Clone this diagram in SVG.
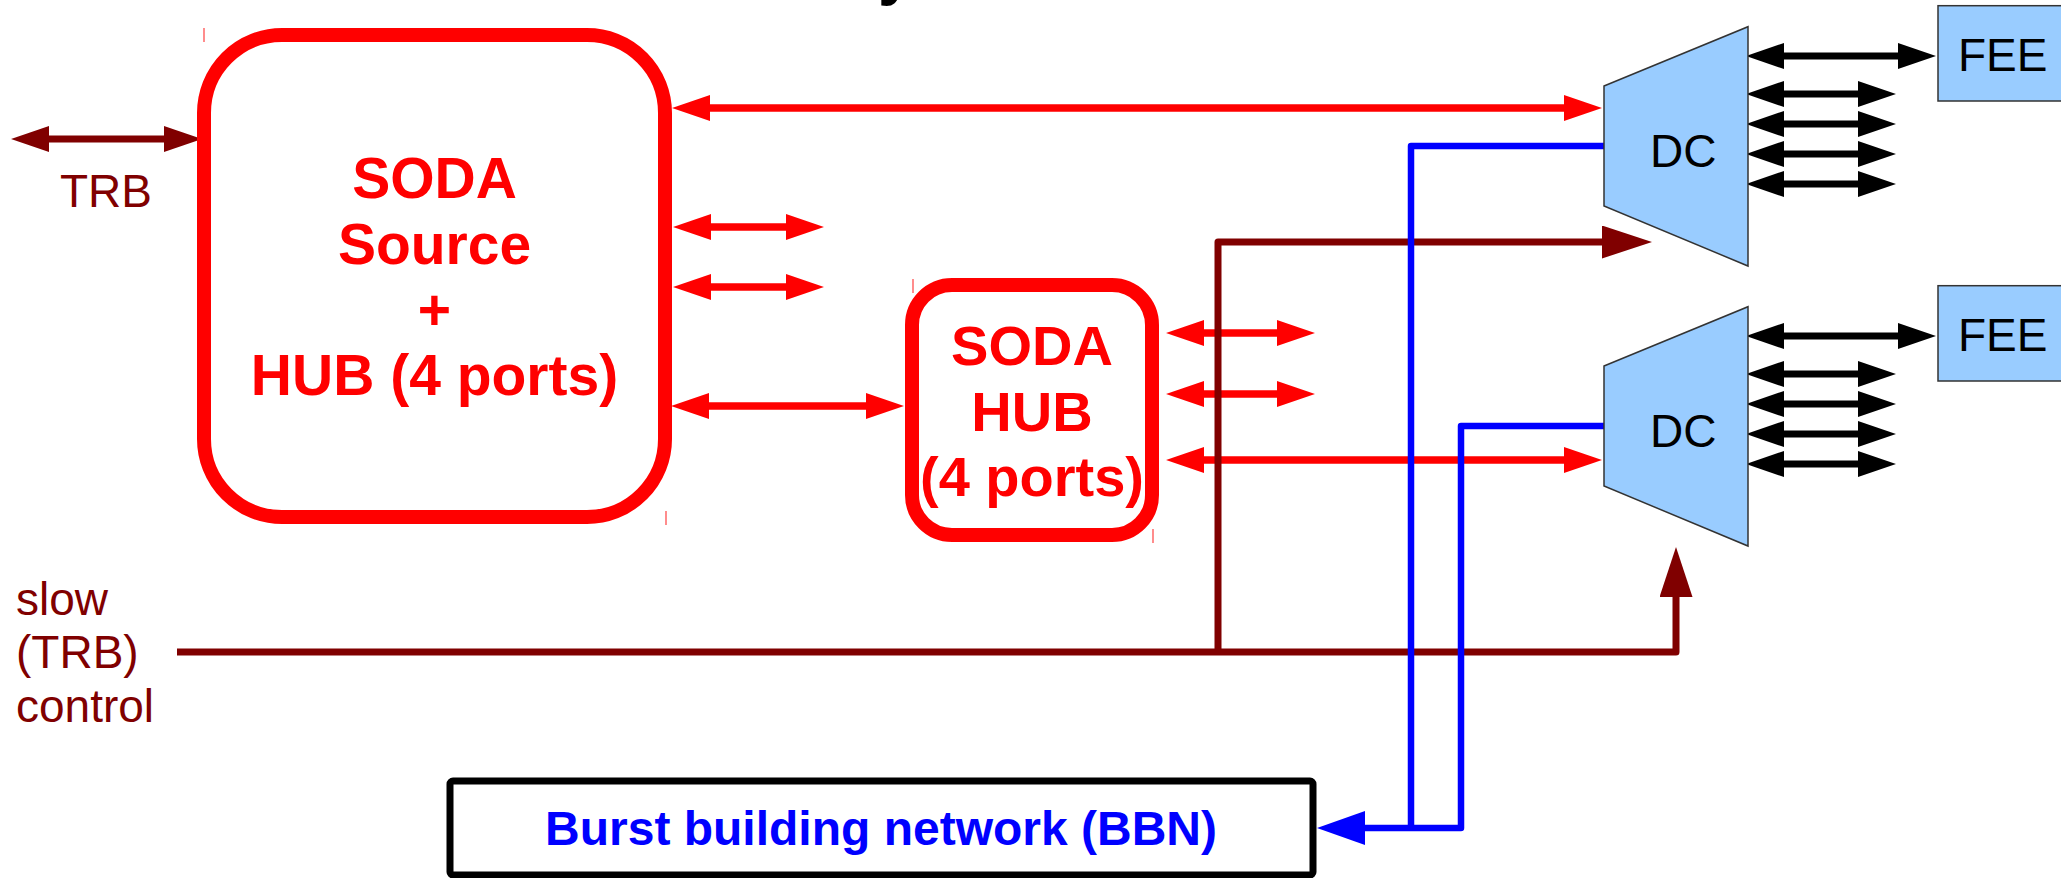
<svg xmlns="http://www.w3.org/2000/svg" width="2061" height="878" viewBox="0 0 2061 878">
<style>
.lbl{font-family:"Liberation Sans",Arial,sans-serif;}
.big{font-family:"Liberation Sans",Arial,sans-serif;font-weight:bold;fill:#ff0000;text-anchor:middle;}
.dr{fill:#800000;font-size:46px;}
.blk{fill:#000;font-size:46px;}
.red{stroke:#ff0000;stroke-width:7.5;fill:none;marker-start:url(#ar);marker-end:url(#ar);}
.black{stroke:#000;stroke-width:7;fill:none;marker-start:url(#ak);marker-end:url(#ak);}
.dc{fill:#99ccff;stroke:#333;stroke-width:1.5;}
.fee{fill:#99ccff;stroke:#333;stroke-width:1.5;}
.tick{stroke:#ff4040;stroke-width:1.2;}
</style>
<defs>
<marker id="ar" markerUnits="userSpaceOnUse" markerWidth="38" markerHeight="26" viewBox="0 0 38 26" refX="8" refY="13" orient="auto-start-reverse"><path d="M0,0 L38,13 L0,26 z" fill="#ff0000"/></marker>
<marker id="ak" markerUnits="userSpaceOnUse" markerWidth="38" markerHeight="26" viewBox="0 0 38 26" refX="8" refY="13" orient="auto-start-reverse"><path d="M0,0 L38,13 L0,26 z" fill="#000"/></marker>
<marker id="ad" markerUnits="userSpaceOnUse" markerWidth="38" markerHeight="26" viewBox="0 0 38 26" refX="8" refY="13" orient="auto-start-reverse"><path d="M0,0 L38,13 L0,26 z" fill="#800000"/></marker>
<marker id="adL" markerUnits="userSpaceOnUse" markerWidth="50" markerHeight="33" viewBox="0 0 50 33" refX="12" refY="16.5" orient="auto"><path d="M0,0 L50,16.5 L0,33 z" fill="#800000"/></marker>
<marker id="ab" markerUnits="userSpaceOnUse" markerWidth="48" markerHeight="34" viewBox="0 0 48 34" refX="12" refY="17" orient="auto"><path d="M0,0 L48,17 L0,34 z" fill="#0000ff"/></marker>
</defs>

<text class="lbl" x="878" y="-7" font-size="64" font-weight="bold" fill="#000">y</text>

<g id="connectors">
  <!-- red SODA links -->
  <line class="red" x1="702" y1="108" x2="1572" y2="108"/>
  <line class="red" x1="703" y1="227" x2="794" y2="227"/>
  <line class="red" x1="703" y1="287" x2="794" y2="287"/>
  <line class="red" x1="701" y1="406" x2="874" y2="406"/>
  <line class="red" x1="1196" y1="333" x2="1285" y2="333"/>
  <line class="red" x1="1196" y1="394" x2="1285" y2="394"/>
  <line class="red" x1="1196" y1="460" x2="1572" y2="460"/>
  <!-- TRB -->
  <line x1="41" y1="139" x2="172" y2="139" stroke="#800000" stroke-width="7" marker-start="url(#ad)" marker-end="url(#ad)"/>
  <!-- slow control -->
  <path d="M177,652 H1676 V585" fill="none" stroke="#800000" stroke-width="7" stroke-linejoin="round" marker-end="url(#adL)"/>
  <path d="M1218,652 V242 H1614" fill="none" stroke="#800000" stroke-width="7" stroke-linejoin="round" marker-end="url(#adL)"/>
  <!-- blue data to BBN -->
  <path d="M1604,146 H1411 V828" fill="none" stroke="#0000ff" stroke-width="6.5" stroke-linejoin="round"/>
  <path d="M1604,426 H1461 V828 H1353" fill="none" stroke="#0000ff" stroke-width="6.5" stroke-linejoin="round" marker-end="url(#ab)"/>
  <!-- DC1 front-end links -->
  <line class="black" x1="1776" y1="56" x2="1906" y2="56"/>
  <line class="black" x1="1776" y1="94" x2="1866" y2="94"/>
  <line class="black" x1="1776" y1="124" x2="1866" y2="124"/>
  <line class="black" x1="1776" y1="154" x2="1866" y2="154"/>
  <line class="black" x1="1776" y1="184" x2="1866" y2="184"/>
  <!-- DC2 front-end links -->
  <line class="black" x1="1776" y1="336" x2="1906" y2="336"/>
  <line class="black" x1="1776" y1="374" x2="1866" y2="374"/>
  <line class="black" x1="1776" y1="404" x2="1866" y2="404"/>
  <line class="black" x1="1776" y1="434" x2="1866" y2="434"/>
  <line class="black" x1="1776" y1="464" x2="1866" y2="464"/>
</g>

<g id="soda-source">
  <rect x="204" y="35" width="461" height="482" rx="78" ry="78" fill="none" stroke="#ff0000" stroke-width="14"/>
  <line class="tick" x1="204" y1="28" x2="204" y2="42"/>
  <line class="tick" x1="666" y1="511" x2="666" y2="525"/>
  <text class="big" x="434.5" y="198" font-size="57">SODA</text>
  <text class="big" x="434.5" y="264" font-size="57">Source</text>
  <text class="big" x="434.5" y="330" font-size="57">+</text>
  <text class="big" x="434.5" y="395" font-size="57">HUB (4 ports)</text>
</g>

<g id="soda-hub">
  <rect x="912" y="285" width="240" height="250" rx="40" ry="40" fill="none" stroke="#ff0000" stroke-width="14"/>
  <line class="tick" x1="913" y1="279" x2="913" y2="293"/>
  <line class="tick" x1="1153" y1="529" x2="1153" y2="543"/>
  <text class="big" x="1032" y="365" font-size="56">SODA</text>
  <text class="big" x="1032" y="431" font-size="56">HUB</text>
  <text class="big" x="1032" y="496" font-size="56">(4 ports)</text>
</g>

<g id="trb-label">
  <text class="lbl dr" x="60" y="207">TRB</text>
</g>

<g id="slow-control-label">
  <text class="lbl dr" x="16" y="615">slow</text>
  <text class="lbl dr" x="16" y="668">(TRB)</text>
  <text class="lbl dr" x="16" y="722">control</text>
</g>

<g id="dc1">
  <polygon class="dc" points="1604,86 1748,26.7 1748,266 1604,206"/>
  <text class="lbl blk" x="1650" y="167">DC</text>
</g>

<g id="dc2">
  <polygon class="dc" points="1604,366 1748,306.7 1748,546 1604,486"/>
  <text class="lbl blk" x="1650" y="447">DC</text>
</g>

<g id="fee1">
  <rect class="fee" x="1938" y="5.7" width="140" height="95.3"/>
  <text class="lbl blk" x="1958" y="71">FEE</text>
</g>

<g id="fee2">
  <rect class="fee" x="1938" y="285.7" width="140" height="95.3"/>
  <text class="lbl blk" x="1958" y="351">FEE</text>
</g>

<g id="bbn">
  <rect x="450" y="781" width="863" height="94" rx="3" ry="3" fill="#fff" stroke="#000" stroke-width="7"/>
  <text class="lbl" x="881" y="845" font-size="48" font-weight="bold" fill="#0000ff" text-anchor="middle">Burst building network (BBN)</text>
</g>
</svg>
